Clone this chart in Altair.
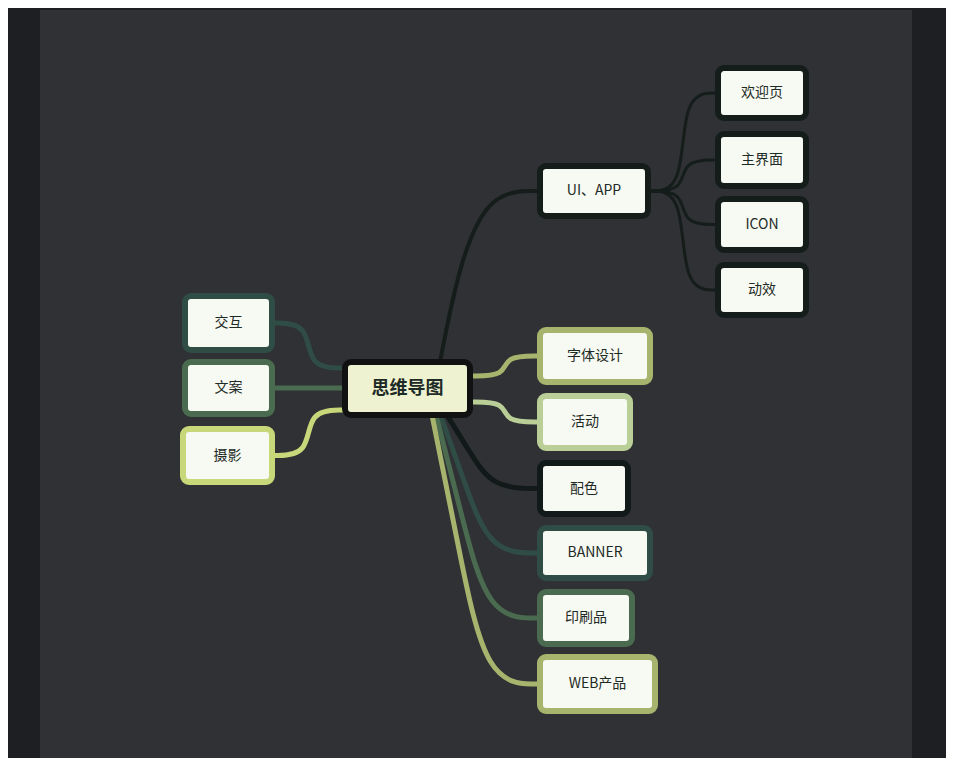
import altair as alt
import pandas as pd

# nodes: label, left, right, top, bottom, border colour
labels = ["思维导图", "交互", "文案", "摄影", "UI、APP", "字体设计", "活动", "配色",
          "BANNER", "印刷品", "WEB产品", "欢迎页", "主界面", "ICON", "动效"]
left = [345, 185, 185, 183, 540, 540, 540, 540, 540, 540, 540, 718, 718, 718, 718]
right = [470, 272, 272, 272, 648, 650, 630, 628, 650, 632, 655, 806, 806, 806, 806]
top = [362, 296, 362, 429, 166, 330, 396, 463, 528, 592, 657, 68, 134, 199, 265]
bottom = [415, 350, 414, 482, 216, 382, 448, 514, 578, 644, 711, 118, 186, 250, 315]
borders = ["#111111", "#2f4d45", "#4a6b4f", "#c8d77a", "#151d1b", "#a6b46e", "#b9cf97",
           "#111a18", "#2f4d45", "#4a6b4f", "#a6b46e", "#151d1b", "#151d1b", "#151d1b", "#151d1b"]

# edges: child index, start point on parent, kind ("h" sideways, "v" downward)
edge_child = [1, 2, 3, 4, 5, 6, 7, 8, 9, 10, 11, 12, 13, 14]
edge_x0 = [345, 345, 345, 440, 470, 470, 445, 440, 436, 432, 648, 648, 648, 648]
edge_y0 = [368, 388, 410, 362, 376, 402, 412, 414, 415, 415, 191, 191, 191, 191]
edge_kind = ["h", "h", "h", "u", "h", "h", "v", "v", "v", "v", "h", "h", "h", "h"]
edge_width = [5, 5, 5, 4, 5, 5, 5, 5, 5, 5, 3, 3, 3, 3]

nodes = pd.DataFrame({"label": labels, "x": left, "x2": right, "y": top, "y2": bottom,
                      "border": borders})
nodes["cx"] = (nodes.x + nodes.x2) / 2
nodes["cy"] = (nodes.y + nodes.y2) / 2
nodes["fill"] = ["#eef2d0"] + ["#f7faf2"] * (len(labels) - 1)

rows = []
for i, c in enumerate(edge_child):
    x0, y0 = edge_x0[i], edge_y0[i]
    if left[c] > x0:
        x1 = left[c]
    else:
        x1 = right[c]
    y1 = (top[c] + bottom[c]) / 2
    dx, dy = x1 - x0, y1 - y0
    if edge_kind[i] == "h":
        pts = [(x0, y0), (x0 + dx * 0.5, y0), (x0 + dx * 0.5, y1), (x1, y1)]
    elif edge_kind[i] == "u":
        pts = [(x0, y0), (x0 + dx * 0.2, y0 + dy * 0.6), (x0 + dx * 0.5, y1), (x1, y1)]
    else:
        pts = [(x0, y0), (x0 + dx * 0.25, y0 + dy * 0.5), (x0 + dx * 0.5, y1), (x1, y1)]
    for k, (px, py) in enumerate(pts):
        rows.append({"edge": i, "order": k, "px": px, "py": py,
                     "color": borders[c], "w": edge_width[i]})
edges = pd.DataFrame(rows)

xs = alt.Scale(domain=[8, 946], nice=False, zero=False)
ys = alt.Scale(domain=[8, 758], nice=False, zero=False, reverse=True)
noax = None

panel = alt.Chart(pd.DataFrame({"x": [40], "x2": [912], "y": [10], "y2": [766]})).mark_rect(
    color="#2f3134").encode(
    x=alt.X("x:Q", scale=xs, axis=noax), x2="x2", y=alt.Y("y:Q", scale=ys, axis=noax), y2="y2")

lines = alt.Chart(edges).mark_line(interpolate="basis", strokeCap="round").encode(
    x=alt.X("px:Q", scale=xs, axis=noax),
    y=alt.Y("py:Q", scale=ys, axis=noax),
    detail="edge:N",
    order="order:O",
    color=alt.Color("color:N", scale=None),
    strokeWidth=alt.StrokeWidth("w:Q", scale=None),
)

boxes = alt.Chart(nodes).mark_rect(cornerRadius=6, strokeWidth=6).encode(
    x=alt.X("x:Q", scale=xs, axis=noax), x2="x2",
    y=alt.Y("y:Q", scale=ys, axis=noax), y2="y2",
    fill=alt.Fill("fill:N", scale=None),
    stroke=alt.Stroke("border:N", scale=None),
)

root_text = alt.Chart(nodes.iloc[:1]).mark_text(
    font="Noto Sans CJK SC", color="#1e2a26", fontSize=18, fontWeight="bold").encode(
    x=alt.X("cx:Q", scale=xs, axis=noax),
    y=alt.Y("cy:Q", scale=ys, axis=noax),
    text="label:N",
)

text = alt.Chart(nodes.iloc[1:]).mark_text(
    font="Noto Sans CJK SC", color="#1e2a26", fontSize=14).encode(
    x=alt.X("cx:Q", scale=xs, axis=noax),
    y=alt.Y("cy:Q", scale=ys, axis=noax),
    text="label:N",
)

chart = alt.layer(panel, lines, boxes, root_text, text).properties(
    width=938, height=750, padding=0, background="#1e1f22",
    autosize=alt.AutoSizeParams(type="none"),
).configure_view(strokeWidth=0)

chart.save("out.html", embed_options={"renderer": "svg", "actions": False})
